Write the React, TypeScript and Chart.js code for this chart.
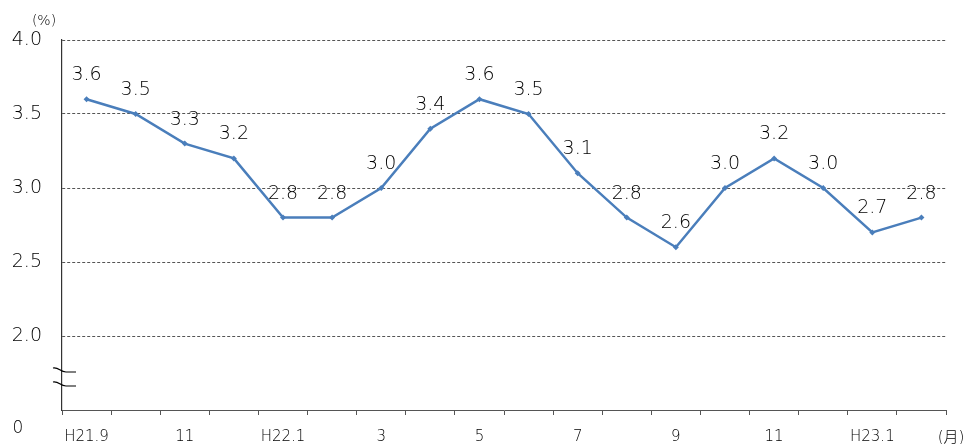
import React, { useEffect, useRef } from "react";
import { Chart, registerables } from "chart.js";

Chart.register(...registerables);

const months: string[] = [
  "H21.9", "10", "11", "12", "H22.1", "2", "3", "4", "5", "6", "7", "8", "9", "10", "11", "12", "H23.1", "2",
];
const shownLabels: string[] = [
  "H21.9", "", "11", "", "H22.1", "", "3", "", "5", "", "7", "", "9", "", "11", "", "H23.1", "",
];
const rates: number[] = [3.6, 3.5, 3.3, 3.2, 2.8, 2.8, 3.0, 3.4, 3.6, 3.5, 3.1, 2.8, 2.6, 3.0, 3.2, 3.0, 2.7, 2.8];
const yTickLabels: Record<string, string> = { "2": "2.0", "2.5": "2.5", "3": "3.0", "3.5": "3.5", "4": "4.0" };

const FONT = "'DejaVu Sans', 'Noto Sans CJK JP', sans-serif";
const TEXT = "#000";

const extrasPlugin = {
  id: "extras",
  afterDatasetsDraw(chart: any) {
    const ctx = chart.ctx as CanvasRenderingContext2D;
    const meta = chart.getDatasetMeta(0);
    ctx.save();
    ctx.fillStyle = TEXT;
    ctx.font = `200 19px ${FONT}`;
    ctx.textAlign = "center";
    ctx.textBaseline = "middle";
    meta.data.forEach((pt: any, i: number) => {
      ctx.fillText(rates[i].toFixed(1), pt.x, pt.y - 24);
    });
    // unit labels
    ctx.font = `200 14px ${FONT}`;
    ctx.fillText("(%)", 44, 21);
    ctx.font = `200 15px ${FONT}`;
    ctx.fillText("(月)", 951, 438);
    ctx.font = `200 17px ${FONT}`;
    ctx.fillText("0", 18, 429);
    // axis break marks
    const left = chart.chartArea.left;
    ctx.strokeStyle = "#000";
    ctx.lineWidth = 1.2;
    [370, 384].forEach((y) => {
      ctx.beginPath();
      ctx.moveTo(left - 9, y - 2);
      ctx.bezierCurveTo(left - 3, y - 3, left - 2, y + 2, left + 4, y + 2);
      ctx.lineTo(left + 14, y + 2);
      ctx.stroke();
    });
    ctx.restore();
  },
};

export default function App() {
  const ref = useRef<HTMLCanvasElement>(null);
  useEffect(() => {
    document.body.style.margin = "0";
    const chart = new Chart(ref.current!, {
      type: "line",
      data: {
        labels: months,
        datasets: [
          {
            data: rates,
            borderColor: "#4a7ebb",
            backgroundColor: "#4a7ebb",
            borderWidth: 2.5,
            pointStyle: "rectRot",
            pointRadius: 3,
            pointBorderWidth: 0,
            tension: 0,
          },
        ],
      },
      options: {
        animation: false,
        responsive: false,
        maintainAspectRatio: false,
        layout: { padding: { top: 40, right: 19, left: 0, bottom: 0 } },
        plugins: { legend: { display: false }, tooltip: { enabled: false }, title: { display: false } },
        scales: {
          x: {
            offset: true,
            grid: { offset: true, drawOnChartArea: false, drawTicks: true, tickLength: 5, color: "#555" },
            border: { display: true, color: "#555", width: 1 },
            ticks: {
              autoSkip: false,
              maxRotation: 0,
              padding: 13,
              color: TEXT,
              font: { family: FONT, size: 15, weight: "200" },
              callback: (_v: any, i: number) => shownLabels[i],
            },
            afterFit: (s: any) => {
              s.height = 34;
            },
          },
          y: {
            min: 1.5,
            max: 4.0,
            grid: {
              drawTicks: false,
              color: (c: any) => (c.tick && c.tick.value === 1.5 ? "rgba(0,0,0,0)" : "#555"),
              lineWidth: 1,
            },
            border: { display: true, color: "#333", width: 1.2, dash: [3, 2] },
            ticks: {
              stepSize: 0.5,
              padding: 20,
              color: TEXT,
              font: { family: FONT, size: 19, weight: "200" },
              callback: (v: any) => yTickLabels[String(v)] ?? "",
            },
            afterFit: (s: any) => {
              s.width = 62;
            },
          },
        },
      },
      plugins: [extrasPlugin],
    });
    return () => chart.destroy();
  }, []);
  return (
    <div style={{ width: 965, height: 444 }}>
      <canvas ref={ref} width={965} height={444} style={{ width: 965, height: 444 }} />
    </div>
  );
}
